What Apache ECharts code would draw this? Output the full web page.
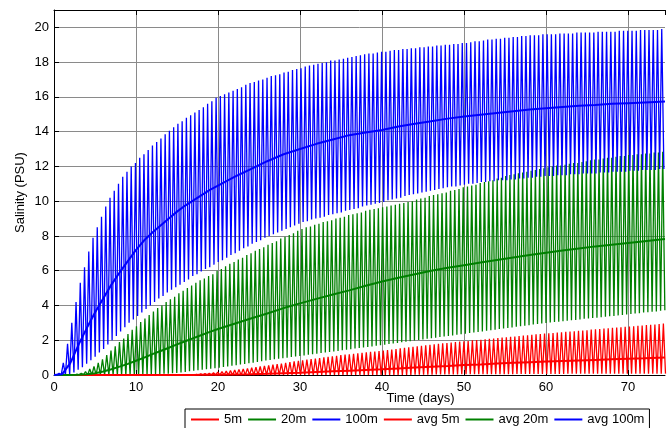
<!DOCTYPE html>
<html><head><meta charset="utf-8">
<script src="https://cdn.jsdelivr.net/npm/echarts@6/dist/echarts.min.js"></script>
<style>html,body{margin:0;padding:0;background:#fff}#c{width:672px;height:428px}</style>
</head><body><div id="c"></div>
<script>
// Tidal sampling of the raw series (days)
const tidalPeriod = 0.5175;
const blueStart = 0.10, greenStart = 0.22, redStart = 0.30;

// 100m: high-water and low-water salinity per tidal cycle
const blueHigh = [0,0.1,0.7,1.8,3.0,4.2,5.3,6.2,7.1,7.9,
8.5,9.1,9.7,10.2,10.6,11.0,11.4,11.7,12.0,12.2,
12.5,12.7,12.95,13.2,13.4,13.6,13.85,14.05,14.25,14.45,
14.6,14.8,14.95,15.1,15.25,15.4,15.6,15.75,15.95,16.05,
16.15,16.25,16.35,16.45,16.55,16.7,16.8,16.85,16.95,17.0,
17.1,17.2,17.25,17.3,17.4,17.45,17.55,17.6,17.65,17.75,
17.8,17.85,17.9,17.95,18.0,18.1,18.1,18.15,18.2,18.25,
18.3,18.35,18.4,18.45,18.5,18.5,18.55,18.6,18.6,18.65,
18.7,18.7,18.75,18.75,18.8,18.8,18.85,18.85,18.9,18.9,
18.95,18.95,19.0,19.0,19.05,19.05,19.1,19.1,19.15,19.2,
19.2,19.25,19.3,19.3,19.35,19.35,19.4,19.4,19.45,19.45,
19.5,19.5,19.55,19.55,19.55,19.6,19.6,19.6,19.6,19.65,
19.65,19.65,19.65,19.7,19.7,19.7,19.7,19.7,19.75,19.75,
19.75,19.75,19.75,19.8,19.8,19.8,19.8,19.8,19.85,19.85,
19.85,19.85,19.85,19.9];
const blueLow = [0,0,0,0.05,0.15,0.3,0.45,0.65,0.85,1.05,
1.3,1.5,1.75,2.0,2.25,2.5,2.75,3.0,3.2,3.4,
3.6,3.8,4.0,4.2,4.4,4.55,4.75,4.9,5.05,5.2,
5.35,5.5,5.7,5.8,5.95,6.1,6.2,6.35,6.5,6.6,
6.75,6.9,7.0,7.15,7.3,7.4,7.55,7.65,7.75,7.9,
8.0,8.1,8.2,8.3,8.4,8.5,8.6,8.7,8.8,8.85,
8.95,9.0,9.05,9.1,9.2,9.25,9.3,9.35,9.45,9.5,
9.55,9.6,9.7,9.75,9.8,9.85,9.9,9.95,10.05,10.1,
10.15,10.2,10.3,10.35,10.4,10.45,10.5,10.55,10.6,10.65,
10.7,10.75,10.8,10.85,10.85,10.9,10.95,11.0,11.0,11.05,
11.1,11.1,11.15,11.15,11.2,11.2,11.2,11.25,11.25,11.3,
11.3,11.35,11.35,11.4,11.4,11.45,11.45,11.45,11.5,11.5,
11.5,11.55,11.55,11.55,11.6,11.6,11.6,11.6,11.65,11.65,
11.65,11.7,11.7,11.7,11.7,11.75,11.75,11.75,11.8,11.8,
11.8,11.8,11.85,11.85];

// 20m
const greenHigh = [0,0,0,0,0,0.05,0.1,0.2,0.35,0.5,
0.7,0.9,1.15,1.4,1.65,1.9,2.1,2.35,2.6,2.8,
3.05,3.25,3.45,3.65,3.85,4.0,4.2,4.35,4.5,4.7,
4.85,5.0,5.15,5.3,5.45,5.55,5.7,5.8,6.0,6.1,
6.25,6.4,6.5,6.65,6.75,6.9,7.0,7.15,7.25,7.35,
7.5,7.6,7.7,7.85,7.95,8.05,8.15,8.3,8.4,8.5,
8.55,8.65,8.7,8.8,8.85,8.9,9.0,9.05,9.1,9.2,
9.25,9.3,9.35,9.45,9.5,9.55,9.6,9.65,9.7,9.75,
9.8,9.85,9.9,9.95,10.0,10.1,10.15,10.2,10.3,10.35,
10.4,10.45,10.5,10.6,10.65,10.7,10.8,10.85,10.9,10.95,
11.05,11.1,11.15,11.2,11.3,11.35,11.45,11.5,11.55,11.6,
11.65,11.7,11.75,11.8,11.85,11.9,11.95,12.0,12.05,12.05,
12.1,12.15,12.2,12.2,12.25,12.3,12.35,12.4,12.4,12.45,
12.5,12.5,12.55,12.6,12.6,12.65,12.65,12.7,12.7,12.75,
12.75,12.8,12.8,12.85];
const greenLow = [0,0,0,0,0,0,0,0,0,0,
0,0,0,0,0,0,0,0,0,0,
0,0,0,0.05,0.05,0.07,0.08,0.1,0.12,0.15,
0.18,0.22,0.25,0.27,0.3,0.33,0.36,0.39,0.42,0.46,
0.49,0.53,0.56,0.6,0.64,0.67,0.71,0.75,0.79,0.83,
0.86,0.9,0.93,0.96,1.0,1.03,1.06,1.09,1.12,1.16,
1.19,1.22,1.26,1.29,1.32,1.35,1.38,1.42,1.45,1.48,
1.52,1.55,1.58,1.61,1.64,1.68,1.71,1.74,1.78,1.81,
1.84,1.88,1.91,1.94,1.98,2.01,2.04,2.08,2.11,2.14,
2.18,2.21,2.24,2.28,2.31,2.34,2.38,2.41,2.45,2.48,
2.51,2.55,2.58,2.61,2.65,2.68,2.71,2.74,2.78,2.81,
2.84,2.87,2.9,2.93,2.96,2.99,3.02,3.05,3.07,3.1,
3.12,3.15,3.17,3.2,3.23,3.25,3.28,3.3,3.33,3.35,
3.38,3.4,3.43,3.45,3.48,3.51,3.54,3.56,3.59,3.61,
3.64,3.66,3.69,3.72];

// 5m
const redHigh = [0,0,0,0,0,0,0,0,0,0,
0,0,0,0,0,0,0,0,0,0,
0,0,0,0,0,0,0,0,0,0,
0,0.01,0.02,0.04,0.06,0.08,0.1,0.13,0.16,0.19,
0.22,0.25,0.28,0.32,0.35,0.38,0.42,0.45,0.49,0.52,
0.55,0.59,0.62,0.66,0.7,0.74,0.78,0.81,0.85,0.88,
0.91,0.95,0.98,1.01,1.04,1.08,1.11,1.14,1.17,1.19,
1.22,1.25,1.27,1.3,1.33,1.35,1.38,1.41,1.44,1.47,
1.5,1.53,1.56,1.59,1.62,1.65,1.68,1.71,1.74,1.76,
1.79,1.82,1.84,1.87,1.89,1.92,1.94,1.96,1.99,2.01,
2.03,2.06,2.08,2.1,2.13,2.15,2.17,2.2,2.22,2.24,
2.27,2.29,2.31,2.34,2.36,2.38,2.4,2.42,2.44,2.46,
2.48,2.5,2.52,2.54,2.56,2.58,2.61,2.63,2.65,2.67,
2.69,2.71,2.73,2.75,2.77,2.79,2.81,2.83,2.85,2.87,
2.89,2.91,2.93,2.96];
const redLow = [0,0,0,0,0,0,0,0,0,0,
0,0,0,0,0,0,0,0,0,0,
0,0,0,0,0,0,0,0,0,0,
0,0,0,0,0,0,0,0,0,0,
0,0,0,0,0,0,0,0,0,0,
0,0,0,0,0,0,0,0,0,0,
0,0,0,0,0,0,0,0,0,0,
0,0,0,0,0,0,0,0,0,0,
0.01,0.01,0.01,0.01,0.02,0.02,0.02,0.02,0.02,0.03,
0.03,0.03,0.03,0.03,0.03,0.04,0.04,0.04,0.04,0.04,
0.04,0.04,0.05,0.05,0.05,0.05,0.05,0.05,0.06,0.06,
0.06,0.06,0.06,0.06,0.06,0.06,0.06,0.06,0.06,0.06,
0.07,0.07,0.07,0.07,0.07,0.07,0.07,0.07,0.07,0.07,
0.07,0.07,0.08,0.08,0.08,0.08,0.08,0.08,0.08,0.08,
0.08,0.08,0.08,0.08];

// Tidally averaged salinity
const avgDays = [0,1,2,3,4,5,6,7,8,9,10,11,12,13,14,15,16,17,18,19,20,
22,24,26,28,30,32,34,36,38,40,42,44,46,48,50,52,54,56,58,60,62,64,66,68,70,72,74.5];
const blueAvg = [0,0.05,0.7,1.75,2.7,3.6,4.4,5.2,5.9,6.55,7.2,7.75,8.2,8.6,9.0,9.4,9.75,10.05,10.35,10.65,10.9,
11.4,11.85,12.3,12.7,13.0,13.3,13.55,13.8,13.95,14.1,14.3,14.45,14.6,14.75,14.87,14.98,15.08,15.18,15.27,15.35,15.42,15.49,15.54,15.6,15.64,15.68,15.73];
const greenAvg = [0,0,0,0.02,0.05,0.1,0.2,0.33,0.48,0.64,0.82,1.0,1.2,1.38,1.57,1.76,1.94,2.12,2.3,2.48,2.65,
2.95,3.25,3.54,3.85,4.12,4.38,4.63,4.87,5.13,5.38,5.6,5.8,6.0,6.17,6.32,6.47,6.62,6.76,6.9,7.03,7.16,7.28,7.4,7.5,7.6,7.7,7.82];
const redAvg = [0,0,0,0,0,0,0,0,0,0,0,0,0,0,0,0,0,0.005,0.01,0.015,0.02,
0.035,0.05,0.07,0.1,0.13,0.17,0.21,0.25,0.29,0.33,0.38,0.43,0.48,0.52,0.57,0.61,0.66,0.7,0.74,0.78,0.81,0.84,0.87,0.9,0.93,0.96,1.0];

const legendNames = ['5m','20m','100m','avg 5m','avg 20m','avg 100m'];

function tide(start, high, low) {
  const pts = [];
  for (let k = 0; k < high.length; k++) {
    pts.push([start + k * tidalPeriod, high[k]]);
    pts.push([start + k * tidalPeriod + tidalPeriod / 2, low[k]]);
  }
  return pts;
}
function pair(xs, ys) { return xs.map((x, i) => [x, ys[i]]); }

const FONT = "'Liberation Sans', Arial, Helvetica, sans-serif";
const chart = echarts.init(document.getElementById('c'), null, {renderer: 'canvas'});
function line(name, data, color, width, z) {
  return {name, type: 'line', data, symbol: 'none', showSymbol: false, silent: true,
    animation: false, z, lineStyle: {color, width}, itemStyle: {color, opacity: 0},
    emphasis: {disabled: true}};
}
chart.setOption({
  animation: false,
  backgroundColor: '#fff',
  textStyle: {fontFamily: FONT},
  grid: {left: 54, top: 10, width: 611, height: 365, containLabel: false},
  legend: {
    data: legendNames, left: 185, top: 409, orient: 'horizontal',
    padding: [4, 5, 4, 5], itemGap: 5, itemWidth: 28, itemHeight: 12,
    borderColor: '#000', borderWidth: 1, backgroundColor: '#fff',
    itemStyle: {opacity: 0},
    textStyle: {fontSize: 13, color: '#000', fontFamily: FONT}, selectedMode: false
  },
  xAxis: [{
    type: 'value', min: 0, max: 74.5, interval: 10, position: 'bottom',
    name: 'Time (days)', nameLocation: 'middle', nameGap: 17, nameMoveOverlap: false,
    nameTextStyle: {fontSize: 13, color: '#000', fontFamily: FONT, padding: [0, 0, 0, 122]},
    axisLine: {show: true, lineStyle: {color: '#000', width: 1}},
    axisTick: {show: true, inside: true, length: 5, lineStyle: {color: '#000'}},
    axisLabel: {color: '#000', fontSize: 13, margin: 6, showMaxLabel: false, fontFamily: FONT},
    splitLine: {show: true, showMaxLine: false, lineStyle: {color: '#8a8a8a', width: 1}}
  }, {
    type: 'value', min: 0, max: 74.5, interval: 10, position: 'top',
    axisLine: {show: true, lineStyle: {color: '#000', width: 1}},
    axisTick: {show: true, inside: true, length: 5, lineStyle: {color: '#000'}},
    axisLabel: {show: false}, splitLine: {show: false}
  }],
  yAxis: [{
    type: 'value', min: 0, max: 21, interval: 2,
    name: 'Salinity (PSU)', nameLocation: 'middle', nameGap: 27, nameMoveOverlap: false,
    nameTextStyle: {fontSize: 13, color: '#000', fontFamily: FONT},
    axisLine: {show: true, lineStyle: {color: '#000', width: 1}},
    axisTick: {show: true, inside: true, length: 5, lineStyle: {color: '#000'}},
    axisLabel: {color: '#000', fontSize: 13, margin: 5, showMaxLabel: false, fontFamily: FONT},
    splitLine: {show: true, showMaxLine: false, lineStyle: {color: '#8a8a8a', width: 1}}
  }],
  series: [
    line(legendNames[0], tide(redStart, redHigh, redLow), '#ff0000', 1.3, 2),
    line(legendNames[1], tide(greenStart, greenHigh, greenLow), '#008000', 1.3, 3),
    line(legendNames[2], tide(blueStart, blueHigh, blueLow), '#0000ff', 1.3, 4),
    line(legendNames[3], pair(avgDays, redAvg), '#ff0000', 2, 5),
    line(legendNames[4], pair(avgDays, greenAvg), '#008000', 2, 6),
    line(legendNames[5], pair(avgDays, blueAvg), '#0000ff', 2, 7)
  ]
});
</script></body></html>
